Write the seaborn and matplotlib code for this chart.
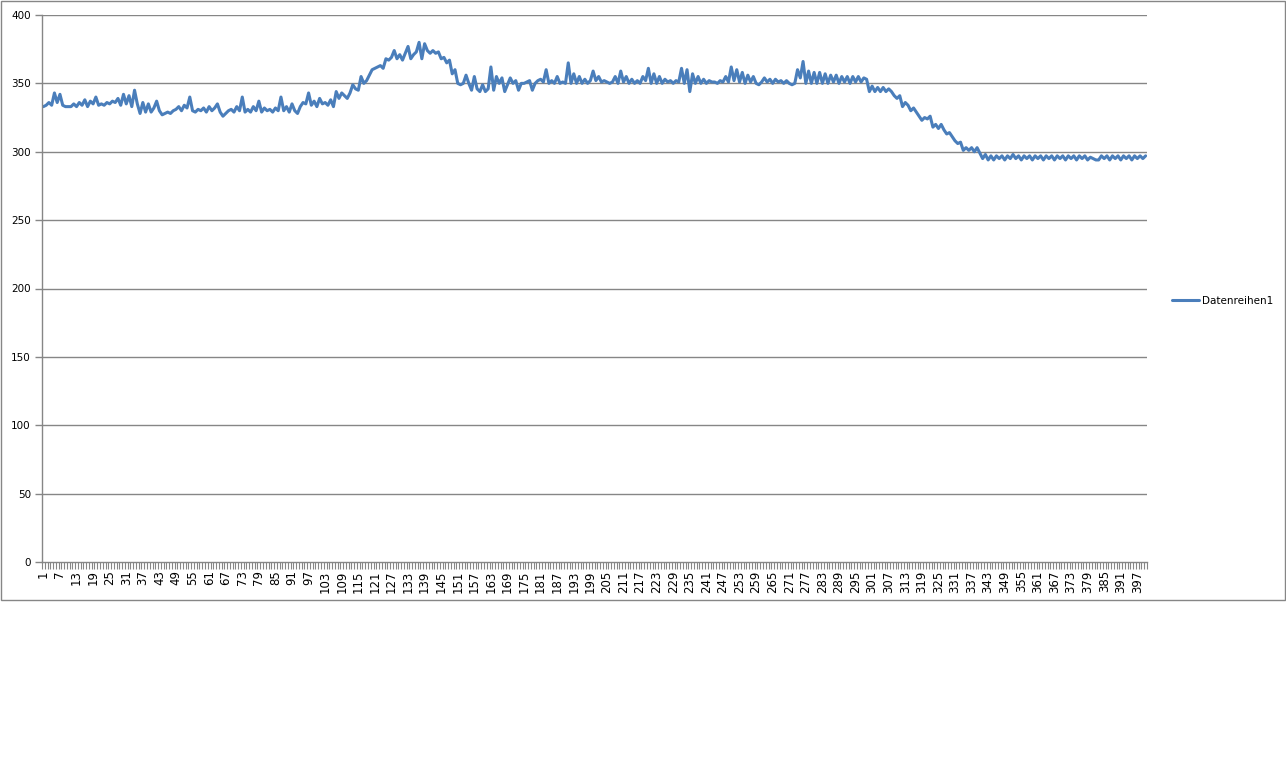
import numpy as np
import pandas as pd
import matplotlib
matplotlib.use("Agg")
import matplotlib.pyplot as plt
from matplotlib.patches import Rectangle
import seaborn as sns

# values, split into chunks along the x axis
vals_001_048 = [333, 334, 336, 334, 343, 336, 342, 334, 333, 333, 333, 335, 333, 336, 334, 338,
                333, 337, 335, 340, 334, 335, 334, 336, 335, 337, 336, 339, 334, 342, 335, 341,
                333, 345, 335, 328, 336, 329, 335, 329, 332, 337, 330, 327, 328, 329, 328, 330]
vals_049_099 = [331, 333, 330, 334, 332, 340, 330, 329, 331, 330, 332, 329, 333, 330, 332, 335,
                329, 326, 328, 330, 331, 329, 333, 330, 340, 329, 331, 329, 333, 330, 337, 329,
                332, 330, 331, 329, 332, 330, 340, 330, 333, 329, 335, 330, 328, 333, 336, 335,
                343, 334, 337]
vals_100_150 = [333, 339, 335, 336, 334, 338, 333, 344, 339, 343, 341, 339, 343, 349, 346, 345,
                355, 350, 352, 356, 360, 361, 362, 363, 361, 368, 367, 369, 374, 368, 371, 367,
                372, 377, 368, 371, 373, 380, 368, 379, 374, 372, 374, 372, 373, 368, 369, 365,
                367, 357, 360]
vals_151_200 = [350, 349, 350, 356, 350, 345, 355, 346, 344, 349, 344, 346, 362, 345, 355, 350,
                354, 344, 349, 354, 350, 352, 345, 350, 350, 351, 352, 345, 350, 352, 353, 351,
                360, 350, 352, 350, 355, 350, 351, 350, 365, 350, 357, 350, 355, 350, 353, 350,
                352, 359]
vals_201_250 = [352, 355, 351, 352, 351, 350, 351, 355, 350, 359, 351, 355, 350, 353, 350, 352,
                350, 355, 352, 361, 350, 357, 350, 355, 350, 353, 351, 352, 350, 352, 351, 361,
                350, 360, 344, 357, 350, 355, 350, 353, 350, 352, 351, 351, 350, 352, 351, 355,
                351, 362]
vals_251_302 = [352, 360, 351, 358, 350, 356, 351, 355, 350, 349, 351, 354, 351, 353, 350, 353,
                351, 352, 350, 352, 350, 349, 350, 360, 354, 366, 350, 359, 350, 358, 350, 358,
                350, 357, 350, 356, 351, 356, 350, 355, 351, 355, 350, 355, 351, 355, 351, 354,
                353, 344, 348, 344]
vals_303_352 = [347, 344, 347, 344, 346, 344, 341, 339, 341, 333, 336, 334, 330, 332, 329, 326,
                323, 325, 324, 326, 318, 320, 317, 320, 316, 313, 314, 311, 308, 306, 307, 301,
                303, 301, 303, 300, 303, 299, 295, 298, 294, 297, 294, 297, 295, 297, 294, 297,
                295, 298]
vals_353_400 = [295, 297, 294, 297, 295, 297, 294, 297, 295, 297, 294, 297, 295, 297, 294, 297,
                295, 297, 294, 297, 295, 297, 294, 297, 295, 297, 294, 296, 295, 294, 294, 297,
                295, 297, 294, 297, 295, 297, 294, 297, 295, 297, 294, 297, 295, 297, 295, 297]

series_name = "Datenreihen1"
y_ticks = [0, 50, 100, 150, 200, 250, 300, 350, 400]

values = (vals_001_048 + vals_049_099 + vals_100_150 + vals_151_200 +
          vals_201_250 + vals_251_302 + vals_303_352 + vals_353_400)
df = pd.DataFrame({"x": np.arange(1, len(values) + 1), "y": values})
n = len(df)

sns.set_style("white")
plt.rcParams["font.family"] = ["DejaVu Sans"]

W, H = 1286, 776
fig = plt.figure(figsize=(W / 100, H / 100), dpi=100)
# outer chart border
fig.patches.append(Rectangle((0.5 / W, 1 - 600 / H), 1284 / W, 599.5 / H,
                             transform=fig.transFigure, fill=False,
                             edgecolor="#868686", linewidth=1))

ax = fig.add_axes([42 / W, 1 - 562 / H, (1147 - 42) / W, (562 - 15) / H])
sns.lineplot(data=df, x="x", y="y", ax=ax, color="#4A7EBB", linewidth=2.2,
             label=series_name)

ax.set_xlim(0.5, n + 0.5)
ax.set_ylim(0, 400)
ax.set_xlabel("")
ax.set_ylabel("")

grey = "#868686"
ax.set_yticks(y_ticks)
for yv in y_ticks[1:]:
    ax.axhline(yv, color=grey, linewidth=1, zorder=0)
ax.tick_params(axis="y", direction="out", length=5, width=1, color=grey,
               labelsize=7.5, labelcolor="black", pad=3, left=True)

lab_pos = np.arange(1, n + 1, 6)
ax.set_xticks(lab_pos)
ax.set_xticklabels([str(p) for p in lab_pos], rotation=90)
ax.set_xticks(np.arange(0.5, n + 1, 1), minor=True)
ax.tick_params(axis="x", which="major", length=0, labelsize=8.5,
               labelcolor="black", pad=6)
ax.tick_params(axis="x", which="minor", direction="out", length=5, width=0.8,
               color=grey, bottom=True)

for side in ["top", "right"]:
    ax.spines[side].set_visible(False)
for side in ["left", "bottom"]:
    ax.spines[side].set_color(grey)
    ax.spines[side].set_linewidth(1)

handles, labels = ax.get_legend_handles_labels()
ax.get_legend().remove()
leg = fig.legend(handles, labels, loc="center left", frameon=False, fontsize=7.5,
                 bbox_to_anchor=(1163 / W, 1 - 301 / H), handlelength=2.6,
                 handletextpad=0.2)
for t in leg.get_texts():
    t.set_color("black")

fig.savefig("out.png", dpi=100, facecolor="white")
